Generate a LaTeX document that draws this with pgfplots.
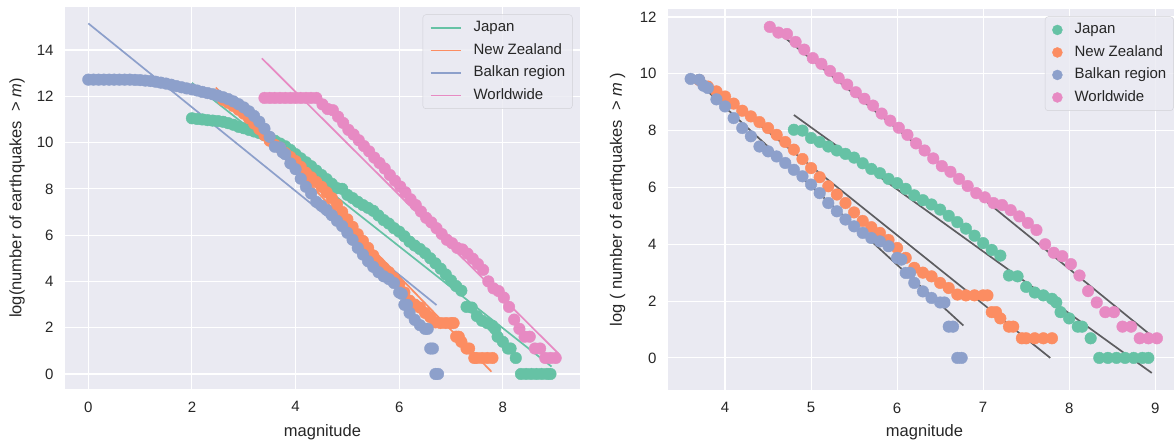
\documentclass[border=0pt]{standalone}
\usepackage{fontspec}
\setmainfont{Liberation Sans}
\usepackage{pgfplots}
\usepackage{pgfplotstable}
\pgfplotsset{compat=1.18}

\definecolor{bgc}{HTML}{EAEAF2}
\definecolor{txt}{HTML}{262626}
\definecolor{cJ}{HTML}{66C2A5}
\definecolor{cN}{HTML}{FC8D62}
\definecolor{cB}{HTML}{8DA0CB}
\definecolor{cW}{HTML}{E78AC3}
\definecolor{legedge}{RGB}{208,208,214}

% log of the number of earthquakes with magnitude above m
\pgfplotstableread{
m v
2.0 11.05
2.1 11.02
2.2 11.00
2.3 10.97
2.4 10.95
2.5 10.93
2.6 10.90
2.7 10.84
2.8 10.77
2.9 10.68
3.0 10.62
3.1 10.55
3.2 10.48
3.3 10.41
3.4 10.32
3.5 10.20
3.6 10.08
3.7 9.96
3.8 9.84
3.9 9.68
4.0 9.50
4.1 9.32
4.2 9.15
4.3 8.98
4.4 8.79
4.5 8.60
4.6 8.42
4.7 8.22
4.8 8.03
4.9 8.00
5.0 7.74
5.1 7.60
5.2 7.44
5.3 7.30
5.4 7.18
5.5 7.05
5.6 6.85
5.7 6.65
5.8 6.50
5.9 6.30
6.0 6.15
6.1 5.95
6.2 5.72
6.3 5.55
6.4 5.40
6.5 5.22
6.6 5.00
6.7 4.78
6.8 4.55
6.9 4.30
7.0 4.04
7.1 3.80
7.2 3.60
7.3 2.90
7.4 2.87
7.5 2.50
7.6 2.30
7.7 2.20
7.8 2.08
7.85 1.95
7.9 1.61
8.0 1.39
8.1 1.10
8.15 1.10
8.25 0.69
8.35 0.00
8.45 0.00
8.55 0.00
8.65 0.00
8.75 0.00
8.85 0.00
8.92 0.00
}\japan

\pgfplotstableread{
m v
2.6 11.85
2.7 11.72
2.8 11.58
2.9 11.42
3.0 11.25
3.1 11.05
3.2 10.82
3.3 10.58
3.4 10.32
3.5 10.08
3.6 9.90
3.7 9.78
3.8 9.55
3.9 9.38
4.0 9.20
4.1 8.95
4.2 8.70
4.3 8.50
4.4 8.30
4.5 8.09
4.6 7.85
4.7 7.60
4.8 7.33
4.9 7.00
5.0 6.68
5.1 6.36
5.2 6.04
5.3 5.75
5.4 5.45
5.5 5.12
5.6 4.82
5.7 4.60
5.8 4.40
5.9 4.15
6.0 3.87
6.1 3.52
6.2 3.17
6.3 3.00
6.4 2.87
6.5 2.64
6.6 2.46
6.7 2.23
6.8 2.20
6.9 2.20
7.0 2.20
7.05 2.20
7.1 1.61
7.15 1.61
7.2 1.39
7.3 1.10
7.35 1.10
7.45 0.69
7.5 0.69
7.6 0.69
7.7 0.69
7.8 0.69
}\newzealand

\pgfplotstableread{
m v
0.0 12.72
0.1 12.72
0.2 12.72
0.3 12.72
0.4 12.72
0.5 12.72
0.6 12.72
0.7 12.72
0.8 12.72
0.9 12.71
1.0 12.70
1.1 12.68
1.2 12.66
1.3 12.63
1.4 12.59
1.5 12.55
1.6 12.50
1.7 12.44
1.8 12.39
1.9 12.34
2.0 12.30
2.1 12.25
2.2 12.19
2.3 12.14
2.4 12.09
2.5 12.03
2.6 11.96
2.7 11.88
2.8 11.78
2.9 11.66
3.0 11.52
3.1 11.35
3.2 11.15
3.3 10.90
3.4 10.60
3.5 10.25
3.6 9.82
3.7 9.79
3.75 9.58
3.8 9.50
3.9 9.10
4.0 8.85
4.1 8.44
4.2 8.09
4.3 7.80
4.4 7.44
4.5 7.27
4.6 7.09
4.7 6.86
4.8 6.62
4.9 6.39
5.0 6.10
5.1 5.80
5.2 5.45
5.3 5.16
5.4 4.87
5.5 4.63
5.6 4.40
5.7 4.22
5.8 4.10
5.9 3.93
6.0 3.52
6.05 3.46
6.1 2.99
6.15 2.99
6.2 2.64
6.3 2.34
6.4 2.11
6.5 1.95
6.55 1.95
6.6 1.10
6.65 1.10
6.7 0.00
6.75 0.00
}\balkan

\pgfplotstableread{
m v
3.4 11.93
3.5 11.93
3.6 11.93
3.7 11.93
3.8 11.93
3.9 11.93
4.0 11.93
4.1 11.93
4.2 11.93
4.3 11.93
4.4 11.93
4.52 11.65
4.62 11.45
4.72 11.40
4.82 11.12
4.92 10.85
5.02 10.55
5.12 10.35
5.22 10.10
5.32 9.85
5.42 9.62
5.52 9.35
5.62 9.12
5.72 8.88
5.82 8.60
5.92 8.35
6.02 8.10
6.12 7.85
6.22 7.55
6.32 7.30
6.42 7.02
6.52 6.75
6.62 6.55
6.72 6.30
6.82 6.05
6.92 5.80
7.02 5.65
7.12 5.45
7.22 5.38
7.32 5.20
7.42 4.98
7.52 4.75
7.62 4.50
7.72 4.00
7.82 3.70
7.92 3.58
8.02 3.30
8.12 2.90
8.22 2.35
8.32 1.95
8.42 1.61
8.52 1.61
8.62 1.10
8.72 1.10
8.82 0.69
8.92 0.69
9.02 0.69
}\worldwide

\pgfplotsset{
  sbstyle/.style={
    scale only axis,
    axis background/.style={fill=bgc},
    axis line style={draw=none},
    major tick length=0pt,
    grid=major,
    grid style={white, line width=1.1pt},
    /pgf/number format/assume math mode=true,
    tick label style={font=\fontsize{15}{18}\selectfont, text=txt},
    xticklabel style={yshift=-9pt},
    yticklabel style={xshift=-8pt},
    label style={font=\fontsize{16.5}{20}\selectfont, text=txt},
    legend cell align=left,
    legend style={at={(1,1)}, anchor=north east, xshift=-7.5pt, yshift=-7.5pt,
      draw=legedge, fill=bgc, fill opacity=0.8, text opacity=1,
      rounded corners=3pt, inner xsep=7pt, inner ysep=6pt, row sep=8pt,
      font=\fontsize{15}{18}\selectfont, text=txt,
      nodes={inner sep=0pt, text height=11pt, text depth=3.5pt},
      /tikz/every odd column/.append style={column sep=12pt}},
  },
  dots/.style={only marks, mark=*, mark size=5.8pt, color=#1,
    mark options={draw=none, fill=#1}},
  fitc/.style={no marks, line width=1.7pt, color=#1},
  fitk/.style={no marks, line width=1.7pt, color=black, opacity=0.6, forget plot},
}

\begin{document}
\begin{tikzpicture}
\useasboundingbox (0pt,0pt) rectangle (1174pt,444pt);

% all magnitudes, with one straight fit per region
\begin{axis}[sbstyle,
  at={(65pt,55pt)}, anchor=south west,
  width=515pt, height=382pt,
  xmin=-0.45, xmax=9.49, ymin=-0.65, ymax=15.86,
  xtick={0,2,4,6,8}, ytick={0,2,4,6,8,10,12,14},
  xlabel={magnitude},
  ylabel={log(number of earthquakes~~>~\textit{m})},
  xlabel style={at={(axis description cs:0.5,0)}, anchor=base, yshift=-47pt},
  ylabel style={at={(axis description cs:-0.0845,0.5)}, anchor=base, rotate=0},
  legend image code/.code={\draw[#1] (0pt,0pt) -- (30pt,0pt);},
]
\addplot[dots=cJ, forget plot] table[x=m, y=v] {\japan};
\addplot[dots=cN, forget plot] table[x=m, y=v] {\newzealand};
\addplot[dots=cB, forget plot] table[x=m, y=v] {\balkan};
\addplot[dots=cW, forget plot] table[x=m, y=v] {\worldwide};
\addplot[fitc=cJ] coordinates {(2.0,12.58) (8.94,0.32)};
\addlegendentry{Japan}
\addplot[fitc=cN] coordinates {(2.46,12.38) (7.78,0.10)};
\addlegendentry{New Zealand}
\addplot[fitc=cB] coordinates {(0.0,15.15) (6.72,2.98)};
\addlegendentry{Balkan region}
\addplot[fitc=cW] coordinates {(3.35,13.64) (9.07,0.89)};
\addlegendentry{Worldwide}
\end{axis}

% above each completeness magnitude, with the fits drawn in black
\begin{axis}[sbstyle,
  at={(668pt,54pt)}, anchor=south west,
  width=513pt, height=381pt,
  xmin=3.337, xmax=9.30, ymin=-1.13, ymax=12.28,
  xtick={4,5,6,7,8,9}, ytick={0,2,4,6,8,10,12},
  xlabel={magnitude},
  ylabel={log ( number of earthquakes~~>~\textit{m} )},
  xlabel style={at={(axis description cs:0.5,0)}, anchor=base, yshift=-46pt},
  ylabel style={at={(axis description cs:-0.0897,0.5)}, anchor=base, rotate=0},
  legend image code/.code={\fill[#1, fill opacity=1] (15pt,0pt) circle[radius=5pt];},
]
\addplot[dots=cJ, restrict x to domain=4.75:10] table[x=m, y=v] {\japan};
\addlegendentry{Japan}
\addplot[dots=cN, restrict x to domain=3.65:10] table[x=m, y=v] {\newzealand};
\addlegendentry{New Zealand}
\addplot[dots=cB, restrict x to domain=3.55:10] table[x=m, y=v] {\balkan};
\addlegendentry{Balkan region}
\addplot[dots=cW, restrict x to domain=4.45:10] table[x=m, y=v] {\worldwide};
\addlegendentry{Worldwide}
\addplot[fitk] coordinates {(4.8,8.55) (8.96,-0.53)};
\addplot[fitk] coordinates {(3.7,9.9) (7.78,0.0)};
\addplot[fitk] coordinates {(3.59,9.96) (6.77,1.14)};
\addplot[fitk] coordinates {(4.52,11.7) (9.05,0.55)};
\end{axis}
\end{tikzpicture}
\end{document}
